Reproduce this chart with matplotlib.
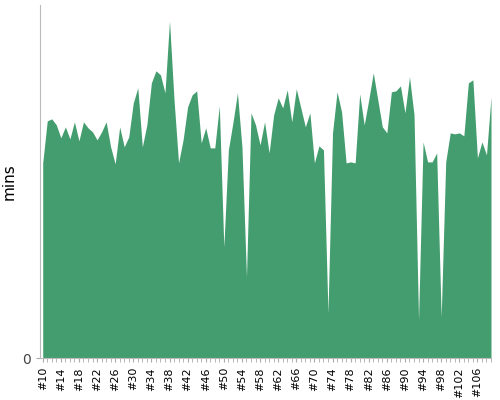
import matplotlib
matplotlib.use("Agg")
import matplotlib.pyplot as plt

builds = list(range(10, 110))
tops = [163,121,119,125,138,127,139,122,141,122,128,132,140,132,122,147,164,127,147,137,
        103,88,147,125,83,71,75,93,21,100,163,140,107,95,91,143,128,148,148,106,
        247,150,123,93,147,277,113,125,145,122,153,115,98,108,90,122,89,108,127,113,
        163,146,150,313,133,92,112,163,162,163,94,125,100,73,100,127,133,92,91,86,
        113,77,115,320,142,162,162,153,317,162,133,134,133,136,83,80,158,142,155,97]
mins = [358 - t for t in tops]
labels = ["#%d" % b for b in builds]

fig = plt.figure(figsize=(5, 4), dpi=100)
ax = fig.add_axes([0.08, 0.105, 0.902, 0.883])
x = list(range(len(builds)))
ax.fill_between(x, mins, 0, color="#449d6e", linewidth=0)
ax.set_xlim(-0.6, len(builds) - 1)
ax.set_ylim(0, 353)
ax.set_yticks([0])
ax.set_yticklabels(["0"], color="#444444")
ax.set_xticks(x[::4])
ax.set_xticklabels(labels[::4], rotation=90, fontsize=8)
ax.set_xticks(x, minor=True)
ax.tick_params(axis="x", which="both", color="#aaaaaa", length=3)
ax.tick_params(axis="y", color="#aaaaaa", length=3)
for s in ["top", "right"]:
    ax.spines[s].set_visible(False)
for s in ["left", "bottom"]:
    ax.spines[s].set_color("#bbbbbb")
ax.set_ylabel("mins", fontsize=11)
fig.savefig("out.png", dpi=100)
